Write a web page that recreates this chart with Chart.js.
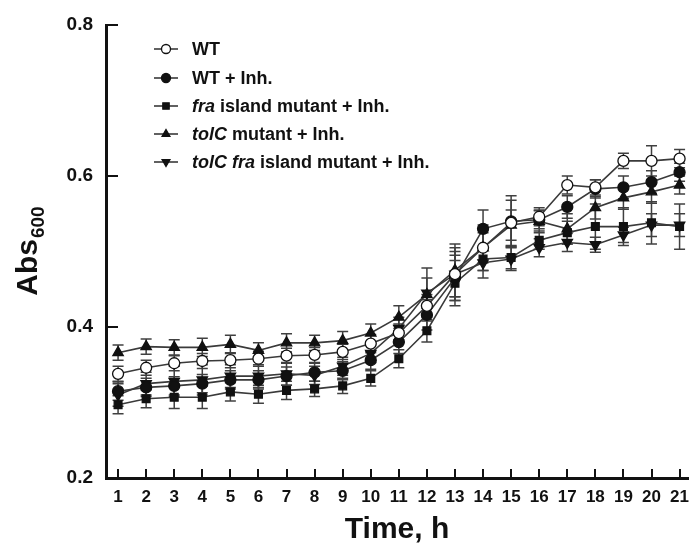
<!DOCTYPE html>
<html><head><meta charset="utf-8">
<script src="https://cdn.jsdelivr.net/npm/chart.js@4.4.1/dist/chart.umd.min.js"></script>
<style>html,body{margin:0;padding:0;background:#fff;}#wrap{position:relative;width:689px;height:548px;}</style>
</head><body><div id="wrap"><canvas id="c"></canvas></div>
<script>
const hours = [1,2,3,4,5,6,7,8,9,10,11,12,13,14,15,16,17,18,19,20,21];
const yTicks = [0.2,0.4,0.6,0.8];
const seriesNames = ["WT","WT + Inh.","<i>fra</i> island mutant + Inh.","<i>tolC</i> mutant + Inh.","<i>tolC fra</i> island mutant + Inh."];
const wt      = [0.338,0.346,0.352,0.355,0.356,0.358,0.362,0.363,0.367,0.378,0.392,0.428,0.470,0.505,0.538,0.546,0.588,0.585,0.620,0.620,0.623];
const wtInh   = [0.315,0.320,0.322,0.325,0.330,0.330,0.335,0.340,0.342,0.356,0.380,0.416,0.465,0.530,0.540,0.542,0.559,0.583,0.585,0.592,0.605];
const fraInh  = [0.297,0.305,0.307,0.307,0.314,0.311,0.316,0.318,0.322,0.332,0.358,0.395,0.458,0.490,0.492,0.515,0.525,0.533,0.533,0.538,0.533];
const tolCInh = [0.366,0.374,0.373,0.373,0.377,0.369,0.379,0.379,0.382,0.392,0.413,0.443,0.475,0.505,0.535,0.540,0.530,0.558,0.571,0.579,0.588];
const tolCfra = [0.310,0.325,0.328,0.330,0.335,0.335,0.338,0.336,0.348,0.365,0.398,0.445,0.470,0.485,0.490,0.505,0.512,0.509,0.522,0.535,0.535];
const wtErr      = [0.010,0.010,0.010,0.010,0.010,0.010,0.010,0.010,0.010,0.012,0.012,0.015,0.030,0.030,0.030,0.012,0.012,0.010,0.010,0.020,0.012];
const wtInhErr   = [0.012,0.012,0.012,0.012,0.012,0.012,0.012,0.012,0.012,0.012,0.015,0.020,0.030,0.025,0.034,0.012,0.015,0.012,0.015,0.015,0.012];
const fraInhErr  = [0.012,0.012,0.015,0.015,0.012,0.012,0.012,0.010,0.010,0.010,0.012,0.015,0.030,0.015,0.015,0.012,0.015,0.030,0.025,0.028,0.030];
const tolCInhErr = [0.010,0.010,0.010,0.012,0.012,0.010,0.012,0.010,0.012,0.012,0.015,0.035,0.035,0.020,0.020,0.015,0.020,0.015,0.015,0.015,0.012];
const tolCfraErr = [0.015,0.015,0.020,0.020,0.015,0.015,0.015,0.012,0.012,0.012,0.015,0.020,0.035,0.020,0.015,0.012,0.012,0.010,0.010,0.015,0.015];

const INK = '#111';
const LINE = '#3a3a3a';
const FONT = "'Liberation Sans', Arial, sans-serif";

function ds(label, data, err, style, fill, rot, r){
  return {label, data: hours.map((h,i)=>({x:h,y:data[i]})), err,
    borderColor: LINE, borderWidth: 1.6, backgroundColor: fill,
    pointStyle: style, pointRotation: rot||0, pointRadius: r||5.5, pointBorderColor: INK,
    pointBackgroundColor: fill, pointBorderWidth: 1.3, tension: 0, fill: false, clip: 10};
}
const datasets = [
  ds(seriesNames[0], wt, wtErr, 'circle', '#fff', 0, 5.5),
  ds(seriesNames[1], wtInh, wtInhErr, 'circle', INK, 0, 5.5),
  ds(seriesNames[2], fraInh, fraInhErr, 'rect', INK, 0, 5.5),
  ds(seriesNames[3], tolCInh, tolCInhErr, 'triangle', INK, 0, 6),
  ds(seriesNames[4], tolCfra, tolCfraErr, 'triangle', INK, 180, 6)
];

const errorBars = {
  id:'errorBars',
  beforeDatasetsDraw(chart){
    const ctx = chart.ctx, ys = chart.scales.y;
    ctx.save(); ctx.strokeStyle = '#404040'; ctx.lineWidth = 1.5;
    chart.data.datasets.forEach((d,di)=>{
      const meta = chart.getDatasetMeta(di);
      meta.data.forEach((pt,i)=>{
        const v = d.data[i].y, e = d.err[i];
        const t = ys.getPixelForValue(v+e), b = ys.getPixelForValue(v-e);
        ctx.beginPath();
        ctx.moveTo(pt.x,t); ctx.lineTo(pt.x,b);
        ctx.moveTo(pt.x-5.5,t); ctx.lineTo(pt.x+5.5,t);
        ctx.moveTo(pt.x-5.5,b); ctx.lineTo(pt.x+5.5,b);
        ctx.stroke();
      });
    });
    ctx.restore();
  }
};

const decor = {
  id:'decor',
  afterDraw(chart){
    const ctx = chart.ctx, xs = chart.scales.x, ys = chart.scales.y, ca = chart.chartArea;
    ctx.save();
    ctx.strokeStyle = INK; ctx.lineWidth = 2;
    hours.forEach(h=>{const px = Math.round(xs.getPixelForValue(h));
      ctx.beginPath(); ctx.moveTo(px, ca.bottom); ctx.lineTo(px, ca.bottom-9); ctx.stroke();});
    yTicks.forEach(v=>{const py = Math.round(ys.getPixelForValue(v));
      ctx.beginPath(); ctx.moveTo(ca.left, py); ctx.lineTo(ca.left+12, py); ctx.stroke();});
    ctx.fillStyle = INK;
    ctx.translate(26, (ca.top+ca.bottom)/2);
    ctx.rotate(-Math.PI/2);
    ctx.font = "bold 30px " + FONT;
    const w1 = ctx.measureText('Abs').width;
    ctx.font = "bold 19px " + FONT;
    const w2 = ctx.measureText('600').width;
    const x0 = -(w1+w2)/2;
    ctx.textBaseline = 'alphabetic'; ctx.textAlign = 'left';
    ctx.font = "bold 30px " + FONT; ctx.fillText('Abs', x0, 11);
    ctx.font = "bold 19px " + FONT; ctx.fillText('600', x0+w1+1, 18);
    ctx.restore();

    ctx.save();
    const rowY = [49,78,106,134,162];
    chart.data.datasets.forEach((d,i)=>{
      const y = rowY[i];
      ctx.strokeStyle = LINE; ctx.lineWidth = 1.6;
      ctx.beginPath(); ctx.moveTo(154,y); ctx.lineTo(178,y); ctx.stroke();
      ctx.strokeStyle = INK; ctx.fillStyle = d.pointBackgroundColor; ctx.lineWidth = 1.3;
      Chart.helpers.drawPoint(ctx, {pointStyle:d.pointStyle, rotation:d.pointRotation, radius:4.5, borderWidth:1.3}, 166, y);
      let x = 192;
      ctx.fillStyle = INK; ctx.textBaseline = 'middle'; ctx.textAlign = 'left';
      const parts = d.label.split(/(<i>.*?<\/i>)/).filter(s=>s.length);
      parts.forEach(p=>{
        const it = p.startsWith('<i>');
        const txt = it ? p.replace(/<\/?i>/g,'') : p;
        ctx.font = (it ? 'italic ' : '') + 'bold 18px ' + FONT;
        ctx.fillText(txt, x, y+1);
        x += ctx.measureText(txt).width;
      });
    });
    ctx.restore();
  }
};

new Chart(document.getElementById('c'), {
  type:'line',
  data:{datasets},
  options:{
    responsive:true, maintainAspectRatio:false, animation:false,
    layout:{autoPadding:false, padding:{left:0,right:1,top:25,bottom:0}},
    plugins:{legend:{display:false}, tooltip:{enabled:false}},
    scales:{
      x:{type:'linear', min:0.57, max:21.3,
        afterBuildTicks:s=>{s.ticks = hours.map(v=>({value:v}));},
        afterFit:s=>{s.height = 70; s.paddingLeft = 0; s.paddingRight = 0;},
        grid:{display:false, drawTicks:false},
        border:{display:true, color:INK, width:3},
        ticks:{color:INK, font:{family:FONT, weight:'bold', size:17}, padding:9, maxRotation:0, autoSkip:false},
        title:{display:true, text:'Time, h', color:INK, font:{family:FONT, weight:'bold', size:30}, padding:{top:0,bottom:0}}
      },
      y:{min:0.2, max:0.8,
        afterBuildTicks:s=>{s.ticks = yTicks.map(v=>({value:v}));},
        afterFit:s=>{s.width = 106; s.paddingTop = 0; s.paddingBottom = 0;},
        grid:{display:false, drawTicks:false},
        border:{display:true, color:INK, width:3},
        ticks:{color:INK, font:{family:FONT, weight:'bold', size:19}, padding:13, callback:v=>v.toFixed(1)}
      }
    }
  },
  plugins:[errorBars, decor]
});
</script></body></html>
